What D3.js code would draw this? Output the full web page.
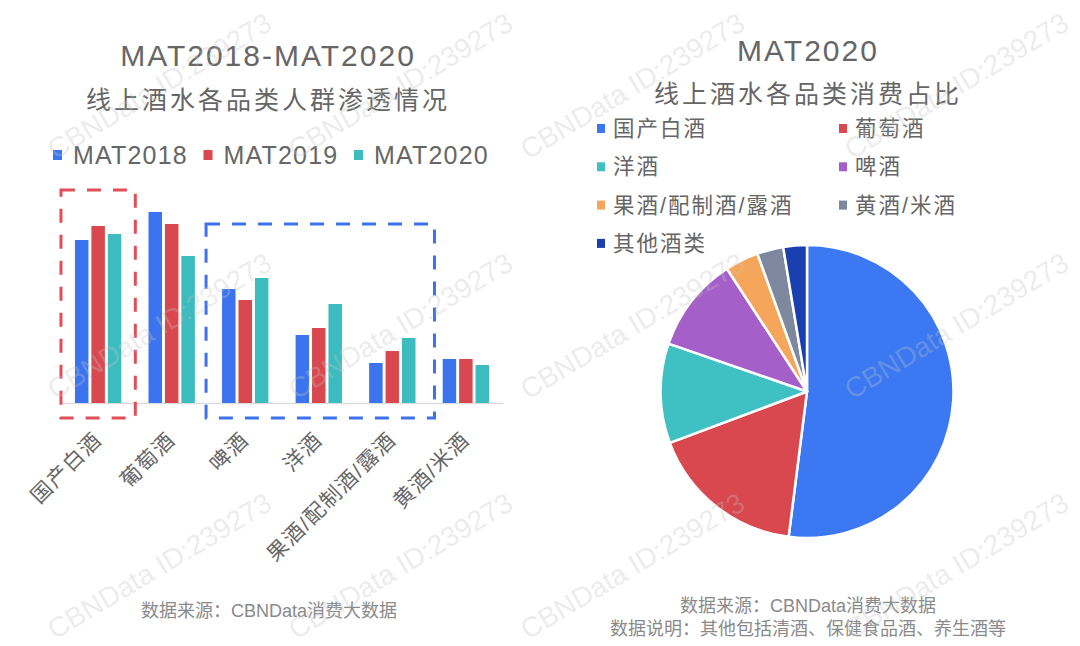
<!DOCTYPE html>
<html>
<head>
<meta charset="utf-8">
<script src="https://cdn.jsdelivr.net/npm/d3@7/dist/d3.min.js"></script>
<style>
  html, body { margin: 0; padding: 0; background: #fff; }
  svg { display: block; font-family: "Liberation Sans", "Noto Sans CJK SC", sans-serif; }
</style>
</head>
<body>
<svg id="chart" width="1080" height="646"></svg>
<script>
// ---------- data ----------
const barCategories = ["国产白酒", "葡萄酒", "啤酒", "洋酒", "果酒/配制酒/露酒", "黄酒/米酒"];
const barSeries = ["MAT2018", "MAT2019", "MAT2020"];
const values2018 = [16.3, 19.1, 11.4, 6.8, 4.0, 4.4];
const values2019 = [17.7, 17.9, 10.3, 7.5, 5.2, 4.4];
const values2020 = [16.9, 14.7, 12.5, 9.9, 6.5, 3.8];
const barColors = ["#3b74ee", "#d9474f", "#3cbcbe"];

const pieCategories = ["国产白酒", "葡萄酒", "洋酒", "啤酒", "果酒/配制酒/露酒", "黄酒/米酒", "其他酒类"];
const pieValues = [52.0, 17.3, 11.0, 10.5, 3.7, 2.9, 2.6];
const pieColors = ["#3b78f2", "#d9474f", "#3fc0c2", "#a45fc9", "#f6a65a", "#7d879e", "#1a3fb0"];

const leftTitle = ["MAT2018-MAT2020", "线上酒水各品类人群渗透情况"];
const rightTitle = ["MAT2020", "线上酒水各品类消费占比"];
const leftFooter = ["数据来源：CBNData消费大数据"];
const rightFooter = ["数据来源：CBNData消费大数据", "数据说明：其他包括清酒、保健食品酒、养生酒等"];
const watermarkText = "CBNData ID:239273";

// ---------- setup ----------
const svg = d3.select("#chart");
svg.append("rect").attr("width", 1080).attr("height", 646).attr("fill", "#fff");
const textColor = "#666";

// ---------- left panel ----------
const left = svg.append("g");
left.append("text").attr("x", 268).attr("y", 66).attr("text-anchor", "middle")
  .attr("font-size", 30).attr("letter-spacing", 2).attr("fill", textColor).text(leftTitle[0]);
left.append("text").attr("x", 268).attr("y", 109).attr("text-anchor", "middle")
  .attr("font-size", 25).attr("letter-spacing", 3).attr("fill", textColor).text(leftTitle[1]);

// legend
const legL = left.selectAll("g.leg").data(barSeries).enter().append("g")
  .attr("transform", (d, i) => `translate(${53 + i * 150.5},0)`);
legL.append("rect").attr("x", 0).attr("y", 150).attr("width", 9).attr("height", 10)
  .attr("fill", (d, i) => barColors[i]);
legL.append("text").attr("x", 20).attr("y", 164).attr("font-size", 25).attr("letter-spacing", 1.2)
  .attr("fill", textColor).text(d => d);

// scales
const x0 = d3.scaleBand().domain(barCategories).range([61, 503]).paddingInner(0.37).paddingOuter(0.19);
const x1 = d3.scaleBand().domain(barSeries).range([0, x0.bandwidth()]).paddingInner(0.18);
const y = d3.scaleLinear().domain([0, 20]).range([403, 203]);
const seriesValues = [values2018, values2019, values2020];

// baseline axis
const xAxis = d3.axisBottom(x0).tickSize(0).tickFormat("");
const axG = left.append("g").attr("transform", `translate(0,${y(0)})`).call(xAxis);
axG.select(".domain").attr("stroke", "#dcdcdc").attr("stroke-width", 1.5);

// bars
const groups = left.selectAll("g.grp").data(barCategories).enter().append("g")
  .attr("transform", d => `translate(${x0(d)},0)`);
groups.selectAll("rect").data((d, i) => barSeries.map((s, j) => ({ s, v: seriesValues[j][i], j })))
  .enter().append("rect")
  .attr("x", d => x1(d.s)).attr("width", x1.bandwidth())
  .attr("y", d => y(d.v)).attr("height", d => y(0) - y(d.v))
  .attr("fill", d => barColors[d.j]);

// category labels
left.selectAll("text.cat").data(barCategories).enter().append("text")
  .attr("class", "cat")
  .attr("text-anchor", "end")
  .attr("font-size", 21).attr("letter-spacing", 1.5).attr("fill", textColor)
  .attr("transform", d => `translate(${x0(d) + x0.bandwidth() / 2 + 5},${y(0) + 38}) rotate(-45)`)
  .text(d => d);

// dashed annotation boxes
function dashedBox(fromCat, toCat, topVal, color, padL, padR) {
  const xa = x0(fromCat) - padL;
  const xb = x0(toCat) + x0.bandwidth() + padR;
  const ya = y(topVal);
  const yb = y(0) + 15;
  left.append("rect").attr("x", xa).attr("y", ya).attr("width", xb - xa).attr("height", yb - ya)
    .attr("fill", "none").attr("stroke", color).attr("stroke-width", 3)
    .attr("stroke-dasharray", "14,12");
}
dashedBox("国产白酒", "国产白酒", 21.3, "#e04e58", 14, 14);
dashedBox("啤酒", "果酒/配制酒/露酒", 17.9, "#3d72ec", 16, 19);

// footer
left.append("text").attr("x", 269).attr("y", 617).attr("text-anchor", "middle")
  .attr("font-size", 18).attr("fill", "#8a8a8a").text(leftFooter[0]);

// ---------- right panel ----------
const right = svg.append("g");
right.append("text").attr("x", 808).attr("y", 61).attr("text-anchor", "middle")
  .attr("font-size", 30).attr("letter-spacing", 2).attr("fill", textColor).text(rightTitle[0]);
right.append("text").attr("x", 808).attr("y", 102.5).attr("text-anchor", "middle")
  .attr("font-size", 25).attr("letter-spacing", 3).attr("fill", textColor).text(rightTitle[1]);

// legend (2 columns)
const legR = right.selectAll("g.leg").data(pieCategories).enter().append("g")
  .attr("transform", (d, i) => `translate(${i % 2 === 0 ? 597 : 839},${128.5 + Math.floor(i / 2) * 38.3})`);
legR.append("rect").attr("x", 0).attr("y", -4.5).attr("width", 8).attr("height", 9)
  .attr("fill", (d, i) => pieColors[i]);
legR.append("text").attr("x", 16).attr("y", 7.5).attr("font-size", 21.5).attr("letter-spacing", 2)
  .attr("fill", textColor).text(d => d);

// pie
const pie = d3.pie().sort(null).value(d => d);
const arc = d3.arc().innerRadius(0).outerRadius(146.5);
const pieG = right.append("g").attr("transform", "translate(807,391.5)");
pieG.selectAll("path").data(pie(pieValues)).enter().append("path")
  .attr("d", arc).attr("fill", (d, i) => pieColors[i])
  .attr("stroke", "#fff").attr("stroke-width", 2.5).attr("stroke-linejoin", "round");

// footer
right.selectAll("text.foot").data(rightFooter).enter().append("text")
  .attr("x", 808).attr("y", (d, i) => 612 + i * 22.5).attr("text-anchor", "middle")
  .attr("font-size", 18).attr("fill", "#8a8a8a").text(d => d);

// ---------- watermarks ----------
const wmRows = [160, 400, 640];
const wmCols = [55, 296, 528, 852];
const wmG = svg.append("g").attr("pointer-events", "none");
wmRows.forEach(r => wmCols.forEach(c => {
  wmG.append("text").attr("transform", `translate(${c},${r}) rotate(-31)`)
    .attr("font-size", 28).attr("fill", "#c4c4c4").attr("fill-opacity", 0.33)
    .text(watermarkText);
}));
</script>
</body>
</html>
